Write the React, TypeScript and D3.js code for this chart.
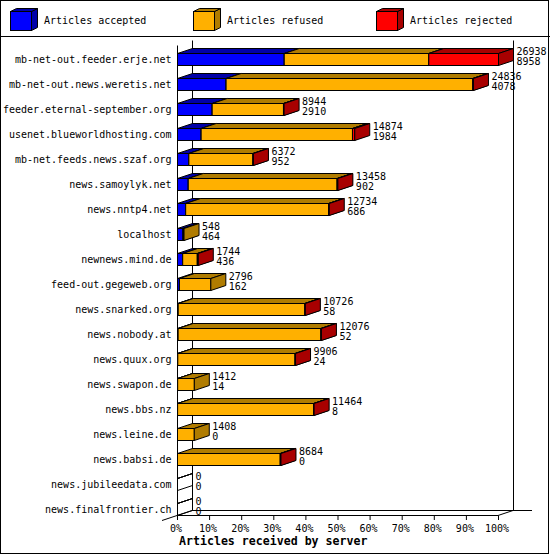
import React, { useRef, useEffect } from "react";
import * as d3 from "d3";

const servers = [
  "mb-net-out.feeder.erje.net",
  "mb-net-out.news.weretis.net",
  "feeder.eternal-september.org",
  "usenet.blueworldhosting.com",
  "mb-net.feeds.news.szaf.org",
  "news.samoylyk.net",
  "news.nntp4.net",
  "localhost",
  "newnews.mind.de",
  "feed-out.gegeweb.org",
  "news.snarked.org",
  "news.nobody.at",
  "news.quux.org",
  "news.swapon.de",
  "news.bbs.nz",
  "news.leine.de",
  "news.babsi.de",
  "news.jubileedata.com",
  "news.finalfrontier.ch",
];

// offered totals and accepted counts as printed beside each bar
const offered = [26938, 24836, 8944, 14874, 6372, 13458, 12734, 548, 1744, 2796, 10726, 12076, 9906, 1412, 11464, 1408, 8684, 0, 0];
const accepted = [8958, 4078, 2910, 1984, 952, 902, 686, 464, 436, 162, 58, 52, 24, 14, 8, 0, 0, 0, 0];
const refused = [12130, 20698, 5984, 12700, 5380, 12496, 11998, 84, 1228, 2634, 10628, 11984, 9842, 1398, 11416, 1408, 8624, 0, 0];
const rejected = [5850, 60, 50, 190, 40, 60, 50, 0, 80, 0, 40, 40, 40, 0, 40, 0, 60, 0, 0];

const pctTicks = [0, 10, 20, 30, 40, 50, 60, 70, 80, 90, 100];

const series = [
  { name: "Articles accepted", values: accepted, color: "#0000ff", dark: "#0000a8" },
  { name: "Articles refused", values: refused, color: "#ffb000", dark: "#b07c00" },
  { name: "Articles rejected", values: rejected, color: "#ff0000", dark: "#a80000" },
];

const W = 550;
const H = 555;
const FONT = "'DejaVu Sans Mono', 'Liberation Mono', monospace";

export default function App() {
  const svgRef = useRef<SVGSVGElement | null>(null);

  useEffect(() => {
    const svg = svgRef.current;
    if (!svg) return;
    const sel = d3.select(svg);
    sel.selectAll("*").remove();

    const DX = 15;
    const DY = 5;
    const maxTotal = d3.max(offered) as number;

    const x = d3.scaleLinear().domain([0, 100]).range([177, 498]);
    const pct = (v: number) => (v / maxTotal) * 100;
    const y = d3.scaleBand<string>().domain(servers).range([41, 41 + servers.length * 25]);

    const left = x(0);
    const right = x(100);
    const wallTop = 40.5;
    const floorBack = 510.5;
    const floorFront = 515.5;

    sel.append("rect").attr("x", 0.5).attr("y", 0.5).attr("width", W - 2).attr("height", H - 2)
      .attr("fill", "#fff").attr("stroke", "#000");
    sel.append("line").attr("x1", 0).attr("x2", W).attr("y1", 36.5).attr("y2", 36.5).attr("stroke", "#000");

    // legend
    const lx = [10, 193, 376];
    series.forEach((s, i) => {
      const g = sel.append("g").attr("transform", `translate(${lx[i]},0)`);
      g.append("polygon")
        .attr("points", "21.5,11.5 27.5,8.5 27.5,27.5 21.5,30.5")
        .attr("fill", s.dark).attr("stroke", "#000");
      g.append("polygon")
        .attr("points", "0.5,11.5 6.5,8.5 27.5,8.5 21.5,11.5")
        .attr("fill", s.dark).attr("stroke", "#000");
      g.append("rect").attr("x", 0.5).attr("y", 11.5).attr("width", 21).attr("height", 19)
        .attr("fill", s.color).attr("stroke", "#000");
      g.append("text").attr("x", 34).attr("y", 24).attr("font-family", FONT).attr("font-size", 10)
        .text(s.name);
    });

    // back wall and floor
    const frame = sel.append("g").attr("stroke", "#000").attr("fill", "none");
    frame.append("line").attr("x1", left + DX + 0.5).attr("x2", left + DX + 0.5).attr("y1", wallTop).attr("y2", floorBack);
    frame.append("line").attr("x1", right + DX + 0.5).attr("x2", right + DX + 0.5).attr("y1", wallTop).attr("y2", floorBack);
    frame.append("line").attr("x1", left + DX).attr("x2", right + DX + 19).attr("y1", floorBack).attr("y2", floorBack);
    frame.append("line").attr("x1", left - DX).attr("x2", left + DX).attr("y1", floorFront + DY).attr("y2", floorBack);
    frame.append("line").attr("x1", left).attr("x2", right).attr("y1", floorFront).attr("y2", floorFront);
    frame.append("line").attr("x1", right).attr("x2", right + DX).attr("y1", floorFront).attr("y2", floorBack);
    frame.append("line").attr("x1", left + 0.5).attr("x2", left + 0.5).attr("y1", wallTop + DY).attr("y2", floorFront);

    // x axis ticks
    const ax = sel.append("g");
    pctTicks.forEach((t) => {
      ax.append("line").attr("x1", x(t) + 0.5).attr("x2", x(t) + 0.5).attr("y1", floorFront).attr("y2", floorFront + 4.5)
        .attr("stroke", "#000");
      ax.append("text").attr("x", x(t) - 1).attr("y", 531.5).attr("text-anchor", "middle")
        .attr("font-family", FONT).attr("font-size", 10).text(`${t}%`);
    });
    sel.append("text").attr("x", 179).attr("y", 545).attr("font-family", FONT).attr("font-size", 11.6)
      .attr("font-weight", "bold").text("Articles received by server");

    // bars
    const bars = sel.append("g").attr("stroke", "#000").attr("stroke-linejoin", "miter");
    servers.forEach((name, i) => {
      const top = (y(name) as number) + 12.5;
      const bot = top + 12;
      let cum = 0;
      const face = (x0: number, x1: number, fill: string, dark: string) => {
        bars.append("rect").attr("x", x0).attr("y", top).attr("width", x1 - x0).attr("height", bot - top)
          .attr("fill", fill);
        bars.append("polygon")
          .attr("points", `${x0},${top} ${x0 + DX},${top - DY} ${x1 + DX},${top - DY} ${x1},${top}`)
          .attr("fill", dark);
        bars.append("polygon")
          .attr("points", `${x1},${top} ${x1 + DX},${top - DY} ${x1 + DX},${bot - DY} ${x1},${bot}`)
          .attr("fill", dark);
      };
      if (offered[i] === 0) {
        face(left + 0.5, left + 0.5, "none", "none");
      }
      series.forEach((s) => {
        const v = s.values[i];
        if (v <= 0) return;
        const x0 = x(pct(cum)) + 0.5;
        cum += v;
        const x1 = x(pct(cum)) + 0.5;
        face(x0, x1, s.color, s.dark);
      });
      const end = x(pct(offered[i])) + 18.5;
      const labels = sel.append("g").attr("font-family", FONT).attr("font-size", 10);
      labels.append("text").attr("x", end).attr("y", top + 1).text(offered[i]);
      labels.append("text").attr("x", end).attr("y", top + 11.5).text(accepted[i]);
      sel.append("text").attr("x", 171.5).attr("y", top + 9).attr("text-anchor", "end")
        .attr("font-family", FONT).attr("font-size", 10).text(name);
    });
  }, []);

  return (
    <div style={{ position: "absolute", left: 0, top: 0 }}>
      <svg ref={svgRef} width={W} height={H} style={{ display: "block" }} />
    </div>
  );
}
